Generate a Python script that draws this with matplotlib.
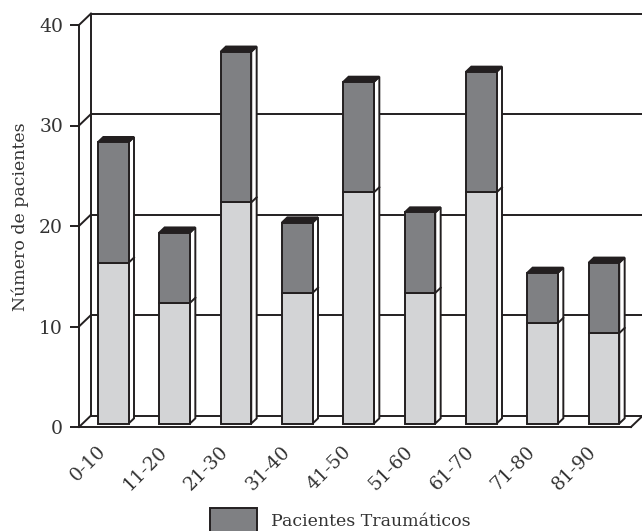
import numpy as np
import matplotlib
matplotlib.use('Agg')
import matplotlib.pyplot as plt
from matplotlib.patches import Polygon, Patch

# Data
grupos = ['0-10', '11-20', '21-30', '31-40', '41-50', '51-60', '61-70', '71-80', '81-90']
no_traumaticos = [16, 12, 22, 13, 23, 13, 23, 10, 9]
traumaticos = [12, 7, 15, 7, 11, 8, 12, 5, 7]
yticks = [0, 10, 20, 30, 40]

plt.rcParams['font.family'] = 'DejaVu Serif'

ink = '#231f20'
texto = '#333333'
gris_claro = '#d3d4d6'
gris_oscuro = '#7f8083'
lw = 1.4

fig = plt.figure(figsize=(6.42, 5.31), dpi=100)
# front frame of the pseudo-3D plot, in pixels: x 79..631, y 427 (0) .. 25 (40)
ax = fig.add_axes([79 / 642, (531 - 427) / 531, 552 / 642, 402 / 531])
n = len(grupos)
xmin, xmax = -0.5, n - 0.5
ymax = 40
ax.set_xlim(xmin, xmax)
ax.set_ylim(0, ymax)

# depth offset of the back wall in data units (~12 px right, ~11.5 px up)
ddx = 12 / (552 / n)
ddy = 11.5 / (402 / ymax)

for s in ['top', 'right']:
    ax.spines[s].set_visible(False)
for s in ['left', 'bottom']:
    ax.spines[s].set_color(ink)
    ax.spines[s].set_linewidth(lw)
    ax.spines[s].set_zorder(5)

# back wall: grid lines and left edge
for v in yticks:
    ax.plot([xmin, xmin + ddx], [v, v + ddy], color=ink, lw=lw, clip_on=False, zorder=1)
    ax.plot([xmin + ddx, xmax + ddx + 0.05], [v + ddy, v + ddy], color=ink, lw=lw,
            clip_on=False, zorder=1)
ax.plot([xmin + ddx, xmin + ddx], [ddy, ymax + ddy], color=ink, lw=lw, clip_on=False, zorder=1)
# floor right edge
ax.plot([xmax, xmax + ddx], [0, ddy], color=ink, lw=lw, clip_on=False, zorder=1)

# bars: front face sits a bit into the depth, bar is ~half the depth deep
f = 0.3
g = 0.45
w = 0.5
x = np.arange(n)
xf = x + f * ddx
y0 = f * ddy
ax.bar(xf, no_traumaticos, width=w, bottom=y0, color=gris_claro, edgecolor=ink,
       linewidth=lw, zorder=3)
ax.bar(xf, traumaticos, width=w, bottom=y0 + np.array(no_traumaticos), color=gris_oscuro,
       edgecolor=ink, linewidth=lw, zorder=3)

for i in range(n):
    x0 = xf[i] - w / 2
    x1 = xf[i] + w / 2
    low = y0 + no_traumaticos[i]
    top = low + traumaticos[i]
    side = Polygon([(x1, y0), (x1 + g * ddx, y0 + g * ddy), (x1 + g * ddx, top + g * ddy),
                    (x1, top)], closed=True, facecolor='white', edgecolor=ink, lw=lw, zorder=2)
    ax.add_patch(side)
    ax.plot([x1, x1 + g * ddx], [low, low + g * ddy], color=ink, lw=lw, zorder=2.5)
    roof = Polygon([(x0, top), (x0 + g * ddx, top + g * ddy), (x1 + g * ddx, top + g * ddy),
                    (x1, top)], closed=True, facecolor=ink, edgecolor=ink, lw=lw, zorder=2)
    ax.add_patch(roof)

ax.set_yticks(yticks)
ax.set_yticklabels([str(v) for v in yticks], fontsize=13.5, color=texto)
ax.tick_params(axis='y', length=6.5, width=lw, color=ink, pad=5)
ax.set_xticks(x)
ax.set_xticklabels(grupos, rotation=45, ha='right', va='top', fontsize=13.5, color=texto)
ax.tick_params(axis='x', length=0, pad=11)

ax.set_ylabel('Número de pacientes', fontsize=12.5, color=texto)
ax.yaxis.set_label_coords(-0.09, 0.524)

# legend sits at the bottom edge, its box runs off the picture as in the original
fig.legend(handles=[Patch(facecolor=gris_oscuro, edgecolor=ink, linewidth=lw)],
           labels=['Pacientes Traumáticos'], loc='upper left',
           bbox_to_anchor=(210 / 642, (531 - 508) / 531), frameon=False, borderpad=0,
           borderaxespad=0, handlelength=2.7, handleheight=1.85, handletextpad=0.8,
           fontsize=12.5, labelcolor=texto)

fig.savefig('out.png', dpi=100)
